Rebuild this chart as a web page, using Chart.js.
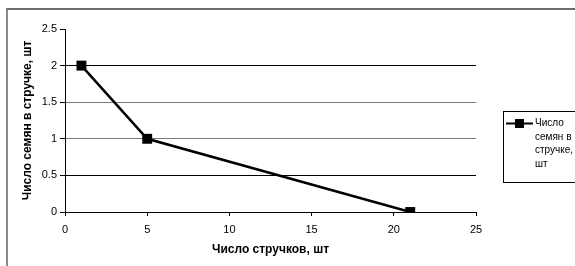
<!DOCTYPE html>
<html>
<head>
<meta charset="utf-8">
<script src="https://cdn.jsdelivr.net/npm/chart.js@4"></script>
<style>
  html, body { margin: 0; padding: 0; background: #ffffff; overflow: hidden; }
  #frame { position: absolute; left: 6px; top: 8px; width: 700px; height: 400px;
           border-top: 2px solid #6e6e6e; border-left: 2px solid #8a8a8a; }
  #c { position: absolute; left: 0; top: 0; }
</style>
</head>
<body>
<div id="frame"></div>
<canvas id="c" width="575" height="266"></canvas>
<script>
// ---- data ----
const podsCount = [1, 5, 21];            // Число стручков, шт
const seedsPerPod = [2, 1, 0];           // Число семян в стручке, шт
const seriesName = "Число семян в стручке, шт";
const legendLines = ["Число", "семян в", "стручке,", "шт"];
const xTitle = "Число стручков, шт";
const yTitle = "Число семян в стручке, шт";
const xRange = [0, 25, 5];
const yRange = [0, 2.5, 0.5];

const FONT = "'Liberation Sans', Arial, sans-serif";

const legendPlugin = {
  id: 'boxLegend',
  afterDraw(chart) {
    const ctx = chart.ctx;
    const ds = chart.data.datasets[0];
    ctx.save();
    ctx.strokeStyle = '#000';
    ctx.lineWidth = 1;
    ctx.strokeRect(503.5, 111.5, 120, 71);
    const my = 123.5;
    ctx.strokeStyle = ds.borderColor;
    ctx.lineWidth = 2;
    ctx.beginPath(); ctx.moveTo(506, my); ctx.lineTo(533, my); ctx.stroke();
    ctx.fillStyle = ds.pointBackgroundColor;
    ctx.fillRect(515, my - 4.5, 9, 9);
    ctx.fillStyle = '#000';
    ctx.font = '10px ' + FONT;
    ctx.textBaseline = 'middle';
    ctx.textAlign = 'left';
    const ys = [123, 137, 150, 164];
    legendLines.forEach((t, i) => ctx.fillText(t, 535, ys[i]));
    ctx.restore();
  }
};

const gridColorFor = (v) => {
  if (v === 2.5) return 'rgba(0,0,0,0)';
  if (v === 1.5 || v === 1) return '#7a7a7a';
  return '#000000';
};

new Chart(document.getElementById('c'), {
  type: 'line',
  data: {
    datasets: [{
      label: seriesName,
      data: podsCount.map((x, i) => ({ x: x, y: seedsPerPod[i] })),
      borderColor: '#000',
      backgroundColor: '#000',
      borderWidth: 2.5,
      pointStyle: 'rect',
      pointRadius: 7,
      pointBackgroundColor: '#000',
      pointBorderColor: '#000',
      pointBorderWidth: 0,
      tension: 0,
      fill: false
    }]
  },
  options: {
    responsive: false,
    animation: false,
    devicePixelRatio: 1,
    layout: { padding: { left: 0, top: 29, right: 99, bottom: 0 } },
    plugins: { legend: { display: false }, tooltip: { enabled: false }, title: { display: false } },
    scales: {
      x: {
        type: 'linear',
        min: xRange[0], max: xRange[1],
        afterFit: (s) => { s.height = 54; },
        ticks: { stepSize: xRange[2], color: '#000', font: { family: FONT, size: 11 }, padding: 7, maxRotation: 0,
                 callback: (v) => String(v) },
        grid: { drawOnChartArea: false, drawTicks: true, tickLength: 4, tickColor: '#000', tickWidth: 1 },
        border: { display: true, color: '#000', width: 1 },
        title: { display: true, text: xTitle, color: '#000', font: { family: FONT, size: 12, weight: 'bold' }, padding: { top: 0, bottom: 9 } }
      },
      y: {
        type: 'linear',
        min: yRange[0], max: yRange[1],
        afterFit: (s) => { s.width = 65; },
        ticks: { stepSize: yRange[2], color: '#000', font: { family: FONT, size: 11 }, padding: 3,
                 callback: (v) => String(v) },
        grid: {
          drawOnChartArea: true, drawTicks: true, tickLength: 5, tickColor: '#000', tickWidth: 1,
          color: (c) => gridColorFor(c.tick ? c.tick.value : null), lineWidth: 1
        },
        border: { display: true, color: '#000', width: 1 },
        title: { display: true, text: yTitle, color: '#000', font: { family: FONT, size: 12, weight: 'bold' }, padding: { top: 20, bottom: 0 } }
      }
    }
  },
  plugins: [legendPlugin]
});
</script>
</body>
</html>
